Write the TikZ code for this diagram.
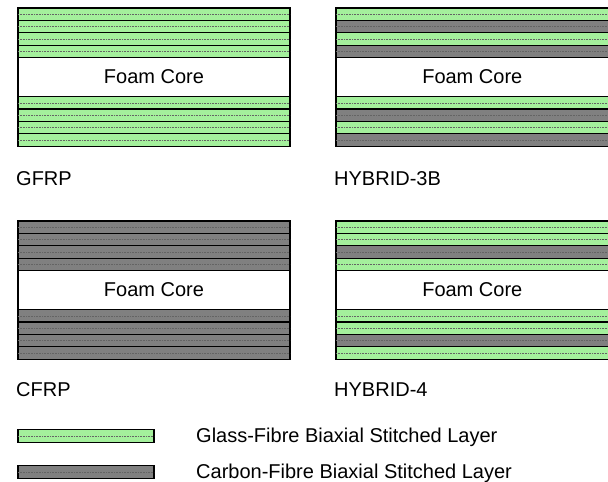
\documentclass[tikz,border=0pt]{standalone}
\usepackage{fontspec}
\setmainfont{Liberation Sans}
\definecolor{glassgreen}{RGB}{164,240,156}
\definecolor{carbongrey}{RGB}{128,128,128}
\definecolor{stitchgrey}{RGB}{100,100,100}
\tikzset{
  glass/.style={fill=glassgreen, draw=black, line width=1.3pt},
  carbon/.style={fill=carbongrey, draw=black, line width=1.3pt},
  stitch/.style={draw=stitchgrey, line width=0.4pt, dash pattern=on 0.8pt off 0.8pt},
  foam/.style={fill=white, draw=black, line width=1.3pt},
  lbl/.style={font=\fontsize{20}{24}\selectfont, anchor=base west, inner sep=0pt},
  corelbl/.style={font=\fontsize{20}{24}\selectfont, inner sep=0pt}
}
% #1 name, #2 x0, #3 x1, #4 y0, #5 top list, #6 bottom list
\newcommand{\plate}[6]{%
  \foreach \m [count=\i from 0] in {#5} {
    \path[\m] (#2,{#4+\i*12.4}) rectangle (#3,{#4+\i*12.4+12.4});
    \draw[stitch] (#2,{#4+\i*12.4+6.2}) -- (#3,{#4+\i*12.4+6.2});
  }
  \path[foam] (#2,{#4+49.6}) rectangle (#3,{#4+88.6});
  \node[corelbl] (#1core) at ({(#2+#3)/2},{#4+69.1}) {Foam Core};
  \foreach \m [count=\i from 0] in {#6} {
    \path[\m] (#2,{#4+88.6+\i*12.4}) rectangle (#3,{#4+88.6+\i*12.4+12.4});
    \draw[stitch] (#2,{#4+88.6+\i*12.4+6.2}) -- (#3,{#4+88.6+\i*12.4+6.2});
  }
}
\begin{document}
\begin{tikzpicture}[x=1pt,y=-1pt]
\useasboundingbox (0,0) rectangle (608,482);
\clip (0,0) rectangle (608,482);
\fill[white] (0,0) rectangle (608,482);

\plate{gfrp}{18}{290}{8}{glass,glass,glass,glass}{glass,glass,glass,glass}
\plate{hybb}{336}{608.6}{8}{glass,carbon,glass,carbon}{glass,carbon,glass,carbon}
\plate{cfrp}{18}{290}{221}{carbon,carbon,carbon,carbon}{carbon,carbon,carbon,carbon}
\plate{hybf}{336}{608.6}{221}{glass,glass,carbon,glass}{glass,glass,carbon,glass}

\node[lbl] (lgfrp) at (16,185) {GFRP};
\node[lbl] (lhybb) at (334,185) {HYBRID-3B};
\node[lbl] (lcfrp) at (16,396.5) {CFRP};
\node[lbl] (lhybf) at (334,396.5) {HYBRID-4};

\path[glass] (18,429.5) rectangle (154,442.3);
\draw[stitch] (18,435.9) -- (154,435.9);
\path[carbon] (18,465.7) rectangle (154,478.3);
\draw[stitch] (18,472) -- (154,472);
\node[lbl] (legglass) at (196,442) {Glass-Fibre Biaxial Stitched Layer};
\node[lbl] (legcarbon) at (196,478.5) {Carbon-Fibre Biaxial Stitched Layer};
\end{tikzpicture}
\end{document}
